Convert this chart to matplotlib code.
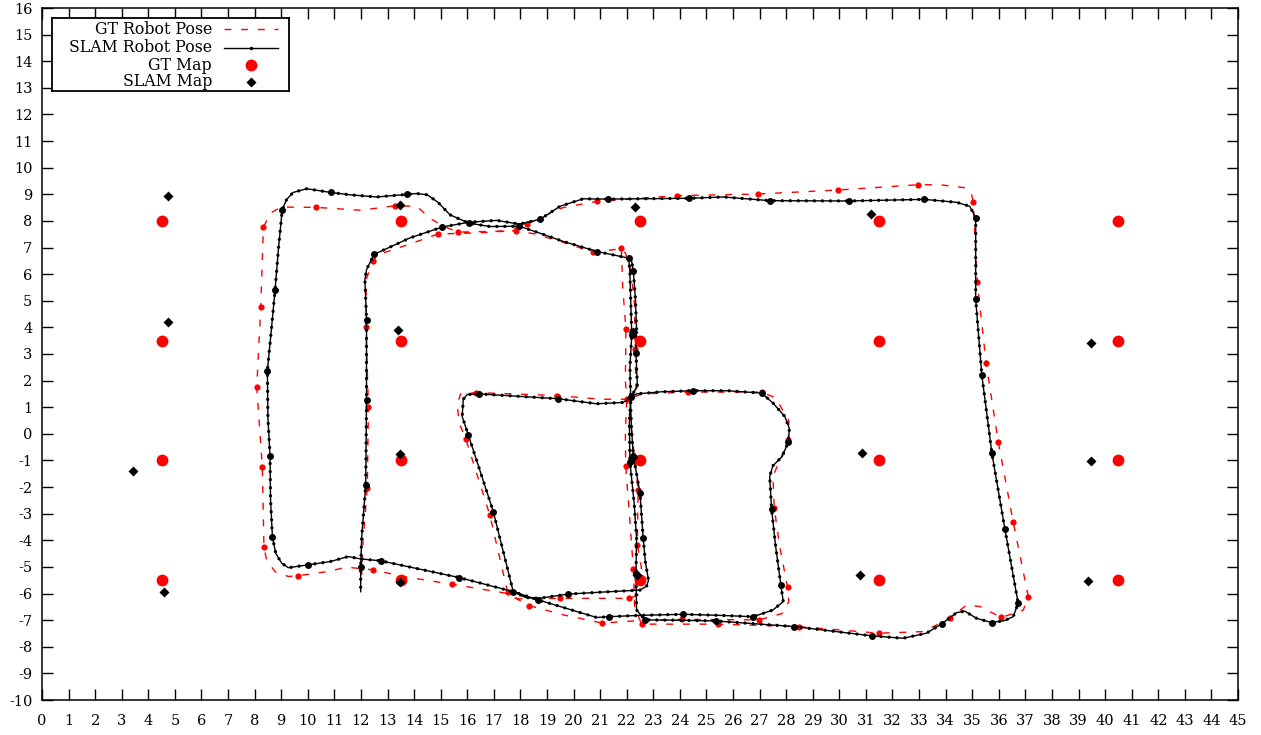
import matplotlib
matplotlib.use("Agg")
import matplotlib.pyplot as plt
import numpy as np

plt.rcParams['font.family'] = ['DejaVu Serif']
plt.rcParams['axes.unicode_minus'] = False

# landmark positions (ground truth grid)
gt_map_x = [4.5] * 4 + [13.5] * 4 + [22.5] * 4 + [31.5] * 4 + [40.5] * 4
gt_map_y = [8.0, 3.5, -1.0, -5.5] * 5

# landmark estimates from SLAM
slam_map_x = [4.74, 4.74, 3.42, 4.59, 13.47, 13.40, 13.47, 13.47, 22.30,
              22.23, 22.23, 22.39, 31.19, 30.85, 30.77, 39.47, 39.47, 39.35]
slam_map_y = [8.95, 4.21, -1.39, -5.94, 8.60, 3.90, -0.75, -5.56, 8.53,
              3.83, -0.86, -5.30, 8.27, -0.71, -5.30, 3.42, -1.01, -5.53]

# robot trajectory estimated by SLAM: x, y, keyframe flag
slam_rows = [
    # start, down the x=22 column
    (22.08, 6.60, 1), (22.18, 6.52, 0), (22.25, 6.10, 1), (22.33, 5.04, 0),
    (22.37, 3.91, 0), (22.35, 3.03, 1), (22.40, 1.78, 0), (22.15, 1.38, 1),
    # inner left box
    (21.87, 1.18, 0), (20.87, 1.13, 0), (19.42, 1.32, 1), (17.60, 1.43, 0),
    (16.45, 1.50, 1), (16.00, 1.48, 0), (15.85, 1.30, 0), (15.81, 0.65, 0),
    (16.04, -0.04, 1), (16.50, -1.45, 0), (16.98, -2.92, 1), (17.35, -4.40, 0),
    (17.73, -5.93, 1), (18.20, -6.15, 0), (18.70, -6.18, 0), (19.80, -6.02, 1),
    (21.00, -5.95, 0), (22.50, -5.87, 0), (22.75, -5.72, 0), (22.82, -5.50, 0),
    (22.70, -4.80, 0), (22.62, -3.92, 1), (22.50, -2.23, 1), (22.30, -1.10, 0),
    (22.25, -0.85, 1), (22.18, 0.20, 0), (22.15, 1.00, 0), (22.15, 1.38, 0),
    # back up to the top of the column
    (22.12, 2.50, 0), (22.19, 3.70, 1), (22.15, 5.00, 0), (22.12, 6.04, 0),
    (22.08, 6.60, 0),
    # left loop
    (21.50, 6.72, 0), (20.89, 6.85, 1), (19.61, 7.23, 0), (18.70, 7.55, 0),
    (17.96, 7.80, 1), (16.85, 7.79, 0), (16.05, 7.92, 1), (15.35, 8.23, 0),
    (14.90, 8.70, 0), (14.50, 8.98, 0), (14.10, 9.03, 0), (13.75, 9.00, 1),
    (12.60, 8.90, 0), (11.60, 8.98, 0), (10.86, 9.07, 1), (9.96, 9.21, 0),
    (9.45, 9.07, 0), (9.20, 8.80, 0), (9.04, 8.42, 1), (8.90, 7.00, 0),
    (8.77, 5.41, 1), (8.60, 3.60, 0), (8.48, 2.38, 1), (8.50, 0.60, 0),
    (8.58, -0.83, 1), (8.60, -2.50, 0), (8.67, -3.88, 1), (8.80, -4.50, 0),
    (9.02, -4.86, 0), (9.27, -5.03, 0), (10.02, -4.92, 1), (10.84, -4.80, 0),
    (11.52, -4.61, 0), (11.99, -4.70, 0), (12.74, -4.77, 1), (15.70, -5.40, 1),
    (17.73, -5.93, 0), (18.67, -6.24, 1), (20.87, -6.90, 0), (21.33, -6.87, 1),
    (22.50, -6.82, 0),
    # inner right box
    (24.13, -6.78, 1), (25.50, -6.82, 0), (26.76, -6.87, 1), (27.50, -6.62, 0),
    (27.89, -6.30, 0), (27.80, -5.68, 1), (27.60, -4.20, 0), (27.45, -2.82, 1),
    (27.38, -1.60, 0), (27.50, -1.20, 0), (27.85, -0.85, 0), (28.08, -0.31, 1),
    (28.12, 0.20, 0), (27.95, 0.65, 0), (27.51, 1.15, 0), (27.08, 1.53, 1),
    (25.80, 1.62, 0), (24.50, 1.62, 1), (23.30, 1.58, 0), (22.37, 1.50, 0),
    (22.15, 1.38, 0),
    # down the column again
    (22.10, 0.40, 0), (22.12, -1.04, 1), (22.28, -2.60, 0), (22.37, -3.90, 0),
    (22.35, -5.25, 1), (22.37, -6.62, 0), (22.69, -6.99, 1),
    # big right loop, then back along the top and down x=12
    (23.80, -7.00, 0), (25.35, -7.03, 1), (28.29, -7.24, 1), (31.23, -7.59, 1),
    (32.40, -7.68, 0), (33.28, -7.49, 0), (33.85, -7.14, 1), (34.41, -6.72, 0),
    (34.72, -6.66, 0), (35.16, -6.93, 0), (35.73, -7.09, 1), (36.20, -7.02, 0),
    (36.54, -6.87, 0), (36.73, -6.37, 1), (36.23, -3.58, 1), (35.74, -0.73, 1),
    (35.36, 2.22, 1), (35.13, 5.06, 1), (35.13, 8.11, 1), (34.91, 8.55, 0),
    (34.41, 8.70, 0), (33.19, 8.81, 1), (30.36, 8.75, 1), (27.41, 8.76, 1),
    (25.63, 8.90, 0), (24.34, 8.85, 1), (21.28, 8.82, 1), (20.36, 8.83, 0),
    (19.49, 8.55, 0), (18.74, 8.06, 1), (17.96, 7.88, 0), (17.11, 8.02, 0),
    (16.05, 7.95, 0), (15.06, 7.77, 1), (13.84, 7.36, 0), (12.49, 6.74, 1),
    (12.21, 6.17, 0), (12.15, 5.79, 0), (12.21, 4.29, 1), (12.21, 1.28, 1),
    (12.18, -1.94, 1), (12.03, -3.86, 0), (11.99, -5.01, 1), (11.99, -5.93, 0),
]

# ground truth trajectory: x, y, keyframe flag
gt_rows = [
    (21.80, 6.97, 1), (21.85, 5.50, 0), (21.97, 3.94, 1), (21.95, 2.00, 0),
    (22.00, 1.30, 1),
    (21.00, 1.30, 0), (19.36, 1.44, 1), (16.33, 1.55, 1), (15.75, 1.50, 0),
    (15.62, 1.10, 0), (15.70, 0.40, 0), (15.94, -0.18, 1), (16.85, -3.05, 1),
    (17.30, -5.00, 0), (17.52, -5.95, 1), (17.90, -6.20, 0), (19.49, -6.18, 1),
    (22.10, -6.18, 1), (22.45, -6.05, 0), (22.55, -5.80, 0),
    (22.55, -5.00, 0), (22.40, -4.17, 1), (22.43, -2.10, 1), (22.30, -1.00, 0),
    (22.15, 0.50, 0), (22.00, 1.30, 0),
    (22.35, 1.70, 0), (22.31, 3.18, 1), (22.30, 4.80, 0), (22.15, 6.20, 0),
    (21.95, 6.80, 0), (21.80, 6.95, 0),
    (20.72, 6.83, 1), (19.60, 7.20, 0), (18.50, 7.52, 0), (17.83, 7.63, 1),
    (16.60, 7.60, 0), (15.66, 7.58, 1), (15.10, 7.80, 0), (14.60, 8.10, 0),
    (14.10, 8.55, 0), (13.28, 8.57, 1), (12.00, 8.40, 0), (10.30, 8.51, 1),
    (9.00, 8.52, 0), (8.60, 8.30, 0), (8.33, 7.76, 1), (8.23, 4.76, 1),
    (8.08, 1.76, 1), (8.29, -1.25, 1), (8.35, -4.24, 1), (8.45, -4.74, 0),
    (8.77, -5.18, 0), (9.27, -5.36, 0), (9.64, -5.33, 1), (10.71, -5.18, 0),
    (11.46, -5.01, 0), (12.46, -5.11, 1), (13.59, -5.36, 0), (15.41, -5.65, 1),
    (17.48, -5.99, 0), (18.32, -6.45, 1), (19.61, -6.80, 0), (21.08, -7.11, 1),
    (22.40, -7.02, 0),
    (24.09, -6.97, 1), (26.98, -6.99, 1), (27.85, -6.75, 0), (28.10, -6.30, 0),
    (28.05, -5.76, 1), (27.75, -4.20, 0), (27.55, -2.77, 1), (27.50, -1.60, 0),
    (27.80, -0.90, 0), (28.08, -0.23, 1), (28.10, 0.50, 0), (27.60, 1.35, 0),
    (27.08, 1.57, 1), (24.32, 1.57, 1), (22.60, 1.50, 0), (22.00, 1.30, 0),
    (21.95, 0.00, 0), (21.96, -1.19, 1), (22.10, -3.00, 0), (22.25, -5.09, 1),
    (22.30, -6.50, 0), (22.56, -7.15, 1),
    (25.42, -7.15, 1), (28.48, -7.24, 1), (31.49, -7.49, 1), (33.16, -7.43, 0),
    (34.16, -6.93, 1), (34.79, -6.43, 0), (35.29, -6.49, 0), (36.10, -6.90, 1),
    (36.92, -6.62, 0), (37.11, -6.12, 1), (36.54, -3.30, 1), (35.98, -0.31, 1),
    (35.52, 2.68, 1), (35.19, 5.70, 1), (35.04, 8.71, 1), (34.98, 8.98, 0),
    (34.79, 9.24, 0), (33.78, 9.36, 0), (32.97, 9.36, 1), (29.94, 9.16, 1),
    (26.93, 9.01, 1), (23.90, 8.95, 1), (20.87, 8.73, 1), (19.60, 8.50, 0),
    (18.24, 7.88, 1), (17.50, 7.62, 0), (16.40, 7.55, 0), (14.91, 7.51, 1),
    (13.60, 7.05, 0), (12.70, 6.75, 0), (12.44, 6.50, 1), (12.20, 5.80, 0),
    (12.19, 4.03, 1), (12.28, 1.00, 1), (12.24, -2.02, 1), (12.08, -4.00, 0),
    (12.03, -5.30, 0),
]

labels = ['GT Robot Pose', 'SLAM Robot Pose', 'GT Map', 'SLAM Map']

slam = np.array(slam_rows)
gt = np.array(gt_rows)
slam_key = slam[:, 2] > 0
gt_key = gt[:, 2] > 0

W, H = 1261, 735
fig = plt.figure(figsize=(W / 100, H / 100), dpi=100)
ax = fig.add_axes([42 / W, 35 / H, 1196 / W, 692 / H])

gt_dash = (0, (5, 7))
bead = (0, (0.01, 2.4))

# ground truth path
ax.plot(gt[:, 0], gt[:, 1], color='red', lw=1.0, ls=gt_dash)
ax.plot(gt[gt_key, 0], gt[gt_key, 1], 'o', color='red', ms=4.5, mec='none')

# slam path: thin line, a bead per pose, bigger dot per keyframe
ax.plot(slam[:, 0], slam[:, 1], color='black', lw=1.0)
ax.plot(slam[:, 0], slam[:, 1], color='black', lw=2.4, ls=bead,
        dash_capstyle='round')
ax.plot(slam[slam_key, 0], slam[slam_key, 1], 'o', color='black', ms=5, mec='none')

# maps
ax.plot(gt_map_x, gt_map_y, 'o', color='red', ms=8.5, mec='none')
ax.plot(slam_map_x, slam_map_y, 'D', color='black', ms=5, mec='none')

ax.set_xlim(0, 45)
ax.set_ylim(-10, 16)
ax.set_xticks(range(0, 46))
ax.set_yticks(range(-10, 17))
ax.tick_params(direction='in', length=8, width=1.0, top=True, right=True,
               labelsize=10.5)
ax.tick_params(axis='x', pad=10)
ax.tick_params(axis='y', pad=7)
for s in ax.spines.values():
    s.set_linewidth(1.1)

# key box in the top left corner, laid out in figure pixels
lg = fig.add_axes([52 / W, 1 - 91 / H, 237 / W, 73 / H])
lg.set_xlim(52, 289)
lg.set_ylim(91, 18)
lg.set_xticks([])
lg.set_yticks([])
lg.set_zorder(5)
for s in lg.spines.values():
    s.set_linewidth(1.3)

rows = [29, 47.5, 65, 82]
for lab, y in zip(labels, rows):
    lg.text(212, y, lab, ha='right', va='center', fontsize=11.3)
lg.plot([224, 278], [rows[0]] * 2, color='red', lw=1.0, ls=gt_dash)
lg.plot([224, 278], [rows[1]] * 2, color='black', lw=1.0)
lg.plot([251], [rows[1]], 'o', color='black', ms=2.5, mec='none')
lg.plot([251], [rows[2]], 'o', color='red', ms=8.5, mec='none')
lg.plot([251], [rows[3]], 'D', color='black', ms=5, mec='none')

fig.savefig('out.png', dpi=100)
